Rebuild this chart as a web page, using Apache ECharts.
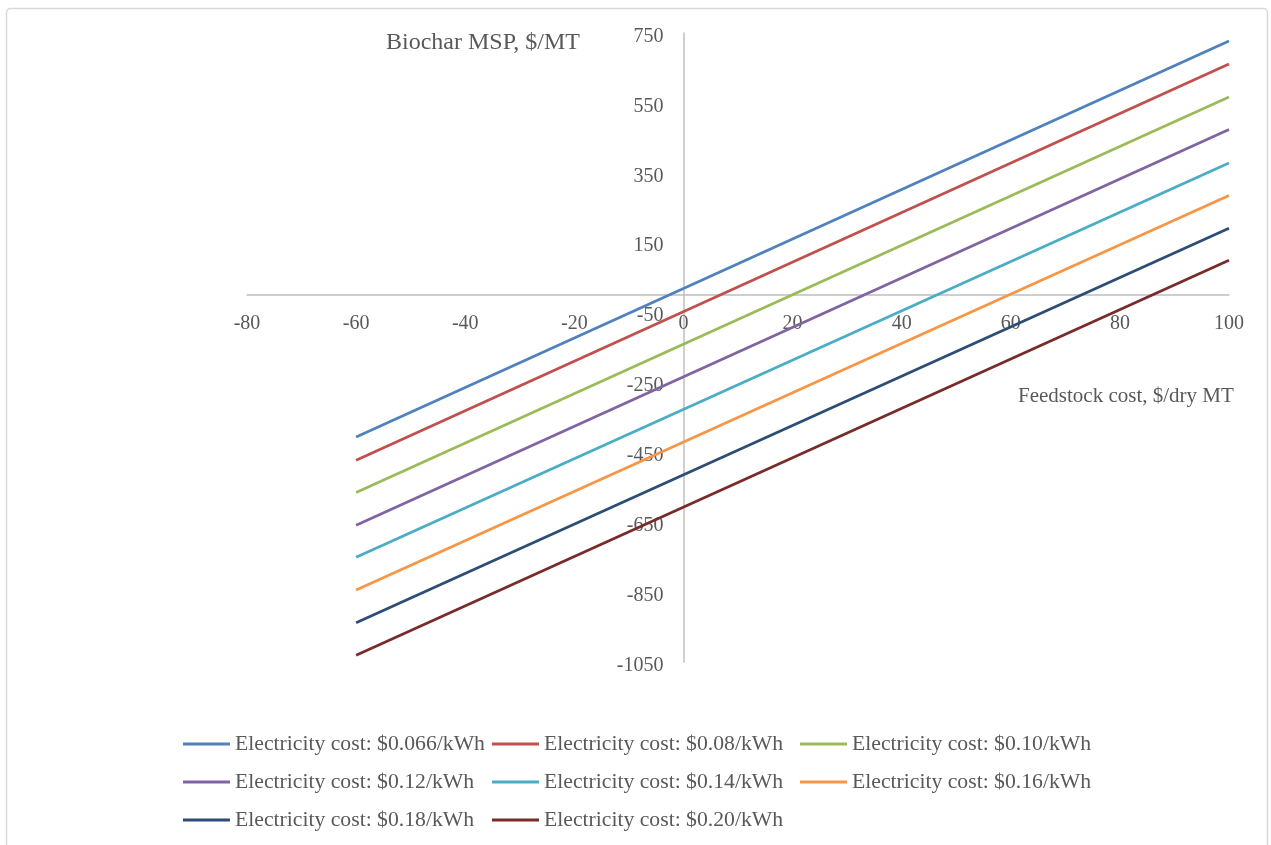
<!DOCTYPE html>
<html>
<head>
<meta charset="utf-8">
<script src="https://cdn.jsdelivr.net/npm/echarts@6/dist/echarts.min.js"></script>
<style>
html,body{margin:0;padding:0;background:#fff;}
#chart{width:1271px;height:845px;}
</style>
</head>
<body>
<div id="chart"></div>
<script>
// Data
const feedstockCost = [-60, 100];
const seriesNames = [
  'Electricity cost: $0.066/kWh',
  'Electricity cost: $0.08/kWh',
  'Electricity cost: $0.10/kWh',
  'Electricity cost: $0.12/kWh',
  'Electricity cost: $0.14/kWh',
  'Electricity cost: $0.16/kWh',
  'Electricity cost: $0.18/kWh',
  'Electricity cost: $0.20/kWh'
];
const msp066 = [-406, 727];
const msp08  = [-473, 661];
const msp10  = [-565, 567];
const msp12  = [-659, 474];
const msp14  = [-750, 378];
const msp16  = [-844, 285];
const msp18  = [-938, 191];
const msp20  = [-1031, 100];
const yTickLabels = [-1050, -850, -650, -450, -250, -50, 150, 350, 550, 750];
const xTickLabels = [-80, -60, -40, -20, 0, 20, 40, 60, 80, 100];

const allValues = [msp066, msp08, msp10, msp12, msp14, msp16, msp18, msp20];
const colors = ['#4F81BD', '#C0504D', '#9BBB59', '#8064A2', '#4BACC6', '#F79646', '#2C4D75', '#772C2A'];

const FONT = "'Liberation Serif', 'Times New Roman', serif";
const TXT = '#595959';

// layout
const W = 1271, H = 845;
const G = { left: 247, right: 42, top: 33, bottom: 183 };
const X_MIN = -80, X_MAX = 100, Y_MIN = -1050, Y_MAX = 750;
const gridW = W - G.left - G.right, gridH = H - G.top - G.bottom;
// move axes to cross at zero
const yAxisOffset = -(0 - X_MIN) / (X_MAX - X_MIN) * gridW;
const xAxisOffset = -(0 - Y_MIN) / (Y_MAX - Y_MIN) * gridH;

const series = seriesNames.map((name, i) => ({
  name: name,
  type: 'line',
  symbol: 'none',
  showSymbol: false,
  data: feedstockCost.map((x, j) => [x, allValues[i][j]]),
  lineStyle: { color: colors[i], width: 2.75 },
  itemStyle: { color: colors[i] },
  emphasis: { disabled: true },
  animation: false
}));

function legendCol(left, names) {
  return {
    orient: 'vertical',
    left: left,
    top: 733,
    padding: 0,
    icon: 'rect',
    itemWidth: 47,
    itemHeight: 3,
    itemGap: 16,
    data: names,
    textStyle: { fontFamily: FONT, fontSize: 21.7, color: TXT, lineHeight: 22 }
  };
}

const chart = echarts.init(document.getElementById('chart'));
chart.setOption({
  backgroundColor: '#ffffff',
  animation: false,
  color: colors,
  grid: { left: G.left, right: G.right, top: G.top, bottom: G.bottom, containLabel: false },
  xAxis: {
    type: 'value',
    min: X_MIN,
    max: X_MAX,
    interval: 20,
    position: 'bottom',
    offset: xAxisOffset,
    axisLine: { onZero: false, lineStyle: { color: '#BFBFBF', width: 1.5 } },
    axisTick: { show: false },
    splitLine: { show: false },
    axisLabel: {
      margin: 19,
      fontFamily: FONT, fontSize: 20, color: TXT,
      customValues: xTickLabels,
      formatter: v => String(v)
    }
  },
  yAxis: {
    type: 'value',
    min: Y_MIN,
    max: Y_MAX,
    position: 'left',
    offset: yAxisOffset,
    axisLine: { show: true, onZero: false, lineStyle: { color: '#BFBFBF', width: 1.5 } },
    axisTick: { show: false },
    splitLine: { show: false },
    axisLabel: {
      margin: 20,
      verticalAlign: 'top',
      lineHeight: 7,
      fontFamily: FONT, fontSize: 20, color: TXT,
      customValues: yTickLabels,
      formatter: v => String(v)
    }
  },
  legend: [
    legendCol(183, [seriesNames[0], seriesNames[3], seriesNames[6]]),
    legendCol(492, [seriesNames[1], seriesNames[4], seriesNames[7]]),
    legendCol(800, [seriesNames[2], seriesNames[5]])
  ],
  graphic: [
    {
      type: 'rect',
      shape: { x: 6.5, y: 8.5, width: 1261, height: 845, r: 4 },
      style: { fill: 'none', stroke: '#D9D9D9', lineWidth: 1.5 },
      silent: true
    },
    {
      type: 'text',
      left: 386, top: 31,
      style: { text: 'Biochar MSP, $/MT', font: "24px 'Liberation Serif'", fill: TXT }
    },
    {
      type: 'text',
      left: 1018, top: 386,
      style: { text: 'Feedstock cost, $/dry MT', font: "21px 'Liberation Serif'", fill: TXT }
    }
  ],
  series: series
});
</script>
</body>
</html>
